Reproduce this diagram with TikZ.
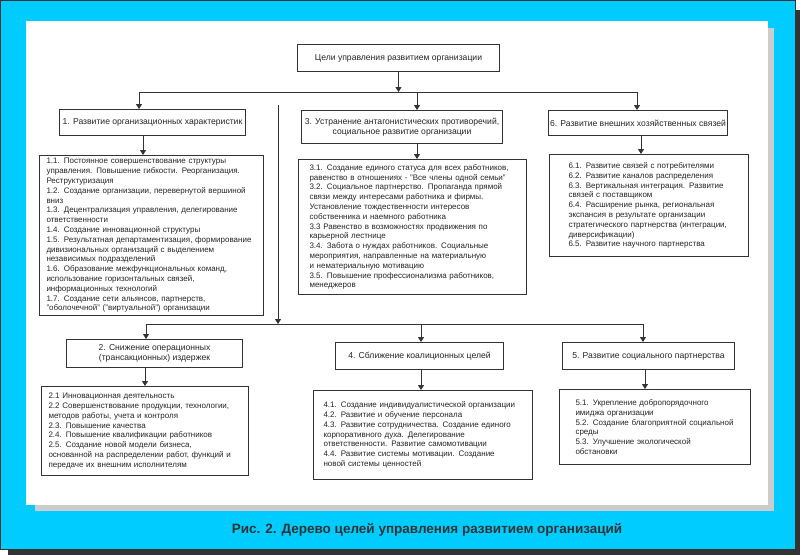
\documentclass[tikz,border=0pt]{standalone}
\usepackage{fontspec}
\setmainfont{Liberation Sans}
\usetikzlibrary{arrows.meta}
\definecolor{frdark}{HTML}{333333}
\definecolor{frcyan}{HTML}{00CCFF}
\definecolor{frgray}{HTML}{CCCCCC}
\definecolor{ink}{HTML}{262626}
\tikzset{
  head/.style={draw=frdark, line width=1pt, fill=white, anchor=north west, align=center,
    inner sep=0pt, text=ink, font=\fontsize{8.6}{10.2}\selectfont},
  detail/.style={draw=frdark, line width=1pt, fill=white, anchor=north west, align=left,
    inner ysep=0pt, text=ink, font=\fontsize{8}{9.8}\selectfont},
  conn/.style={draw=frdark, line width=1pt},
  arr/.style={conn, -{Triangle[width=6pt,length=5pt]}},
}
\begin{document}
\begin{tikzpicture}[x=1pt,y=-1pt]
\useasboundingbox (0,0) rectangle (800,555);
% frame
\fill[frdark] (8,10) rectangle (800,555);
\filldraw[fill=frcyan, draw=frdark, line width=1pt] (0.5,0.5) rectangle (795,549);
\fill[frgray] (35,28) rectangle (774,511);
\fill[white] (26,21) rectangle (768,505);
% headers
\node[head, minimum width=202, minimum height=27] (h0) at (297,44) {Цели управления развитием организации};
\node[head, minimum width=186, minimum height=26] (h1) at (59,109) {1. Развитие организационных характеристик};
\node[head, minimum width=201, minimum height=33] (h3) at (301,110) {3. Устранение антагонистических противоречий,\\социальное развитие организации};
\node[head, minimum width=179, minimum height=25] (h6) at (548,110) {6. Развитие внешних хозяйственных связей};
\node[head, minimum width=176, minimum height=28] (h2) at (66,339) {2. Снижение операционных\\(трансакционных) издержек};
\node[head, minimum width=168, minimum height=27] (h4) at (335,342) {4. Сближение коалиционных целей};
\node[head, minimum width=172, minimum height=27] (h5) at (562,342) {5. Развитие социального партнерства};
% details
\node[detail, minimum width=224, minimum height=160, inner xsep=7pt, text width=210pt] (d1) at (39,155) {%
1.1. Постоянное совершенствование структуры\\
управления. Повышение гибкости. Реорганизация.\\
Реструктуризация\\
1.2. Создание организации, перевернутой вершиной\\
вниз\\
1.3. Децентрализация управления, делегирование\\
ответственности\\
1.4. Создание инновационной структуры\\
1.5. Результатная департаментизация, формирование\\
дивизиональных организаций с выделением\\
независимых подразделений\\
1.6. Образование межфункциональных команд,\\
использование горизонтальных связей,\\
информационных технологий\\
1.7. Создание сети альянсов, партнерств,\\
"оболочечной" ("виртуальной") организации};
\node[detail, minimum width=228, minimum height=135, inner xsep=11pt, text width=206pt] (d3) at (298,159) {%
3.1. Создание единого статуса для всех работников,\\
равенство в отношениях - "Все члены одной семьи"\\
3.2. Социальное партнерство. Пропаганда прямой\\
связи между интересами работника и фирмы.\\
Установление тождественности интересов\\
собственника и наемного работника\\
3.3 Равенство в возможностях продвижения по\\
карьерной лестнице\\
3.4. Забота о нуждах работников. Социальные\\
мероприятия, направленные на материальную\\
и нематериальную мотивацию\\
3.5. Повышение профессионализма работников,\\
менеджеров};
\node[detail, minimum width=199, minimum height=102, inner xsep=19pt, text width=161pt] (d6) at (549,154) {%
6.1. Развитие связей с потребителями\\
6.2. Развитие каналов распределения\\
6.3. Вертикальная интеграция. Развитие\\
связей с поставщиком\\
6.4. Расширение рынка, региональная\\
экспансия в результате организации\\
стратегического партнерства (интеграции,\\
диверсификации)\\
6.5. Развитие научного партнерства};
\node[detail, minimum width=207, minimum height=89, inner xsep=7pt, text width=193pt] (d2) at (41,386) {%
2.1 Инновационная деятельность\\
2.2 Совершенствование продукции, технологии,\\
методов работы, учета и контроля\\
2.3. Повышение качества\\
2.4. Повышение квалификации работников\\
2.5. Создание новой модели бизнеса,\\
основанной на распределении работ, функций и\\
передаче их внешним исполнителям};
\node[detail, minimum width=219, minimum height=89, inner xsep=10pt, text width=199pt] (d4) at (313,390) {%
4.1. Создание индивидуалистической организации\\
4.2. Развитие и обучение персонала\\
4.3. Развитие сотрудничества. Создание единого\\
корпоративного духа. Делегирование\\
ответственности. Развитие самомотивации\\
4.4. Развитие системы мотивации. Создание\\
новой системы ценностей};
\node[detail, minimum width=191, minimum height=75, inner xsep=16pt, text width=159pt] (d5) at (559,389) {%
5.1. Укрепление добропорядочного\\
имиджа организации\\
5.2. Создание благоприятной социальной\\
среды\\
5.3. Улучшение экологической\\
обстановки};
% bus coordinates
\coordinate (b1L) at (139,92);
\coordinate (b13) at (417,92);
\coordinate (b1R) at (637,92);
\coordinate (v1) at (278,105);
\coordinate (b2L) at (146,324);
\coordinate (b24) at (421,324);
\coordinate (b2R) at (643,324);
\coordinate (x1) at (143,0);
\coordinate (x3) at (417,0);
\coordinate (x6) at (641,0);
\coordinate (x2) at (145,0);
\coordinate (x4) at (421,0);
\coordinate (x5) at (645,0);
% connectors
\draw[arr] (h0.south) -- (h0.south |- b1L);
\draw[conn] (b1L) -- (b1R);
\draw[arr] (b1L) -- (b1L |- h1.north);
\draw[arr] (b13) -- (b13 |- h3.north);
\draw[arr] (b1R) -- (b1R |- h6.north);
\draw[arr] (h1.south -| x1) -- (d1.north -| x1);
\draw[arr] (h3.south -| x3) -- (d3.north -| x3);
\draw[arr] (h6.south -| x6) -- (d6.north -| x6);
\draw[arr] (v1) -- (v1 |- b2L);
\draw[conn] (b2L) -- (b2R);
\draw[arr] (b2L) -- (b2L |- h2.north);
\draw[arr] (b24) -- (b24 |- h4.north);
\draw[arr] (b2R) -- (b2R |- h5.north);
\draw[arr] (h2.south -| x2) -- (d2.north -| x2);
\draw[arr] (h4.south -| x4) -- (d4.north -| x4);
\draw[arr] (h5.south -| x5) -- (d5.north -| x5);
% caption
\node[font=\bfseries\fontsize{13.5}{16}\selectfont, text=frdark] (cap) at (427,530) {Рис. 2. Дерево целей управления развитием организаций};
\end{tikzpicture}
\end{document}
